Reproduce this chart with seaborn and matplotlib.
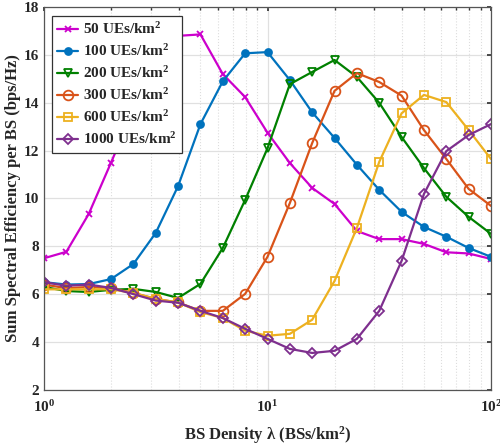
import numpy as np
import pandas as pd
import matplotlib
matplotlib.use("Agg")
import matplotlib.pyplot as plt
import seaborn as sns
from matplotlib.ticker import LogLocator, NullFormatter

density = [1.0, 1.259, 1.585, 1.995, 2.512, 3.162, 3.981, 5.012, 6.310, 7.943,
           10.0, 12.59, 15.85, 19.95, 25.12, 31.62, 39.81, 50.12, 63.10, 79.43, 100.0]

se_50 = [7.5, 7.77, 9.35, 11.5, 13.7, 15.5, 16.8, 16.86, 15.2, 14.24,
         12.75, 11.48, 10.44, 9.77, 8.64, 8.3, 8.3, 8.1, 7.75, 7.7, 7.47]
se_100 = [6.5, 6.4, 6.42, 6.63, 7.26, 8.56, 10.52, 13.11, 14.9, 16.07,
          16.12, 14.95, 13.6, 12.53, 11.41, 10.36, 9.44, 8.81, 8.4, 7.93, 7.56]
se_200 = [6.3, 6.13, 6.09, 6.18, 6.22, 6.09, 5.84, 6.43, 7.93, 9.94,
          12.1, 14.78, 15.29, 15.79, 15.08, 14.0, 12.57, 11.27, 10.07, 9.23, 8.52]
se_300 = [6.4, 6.25, 6.3, 6.25, 6.05, 5.8, 5.65, 5.3, 5.3, 6.01,
          7.56, 9.81, 12.32, 14.5, 15.24, 14.87, 14.3, 12.86, 11.65, 10.4, 9.69]
se_600 = [6.2, 6.2, 6.2, 6.2, 6.05, 5.8, 5.65, 5.25, 5.0, 4.47,
          4.26, 4.34, 4.93, 6.55, 8.77, 11.53, 13.56, 14.33, 14.03, 12.86, 11.65]
se_1000 = [6.5, 6.35, 6.4, 6.26, 6.0, 5.73, 5.64, 5.3, 5.0, 4.55,
           4.13, 3.71, 3.54, 3.63, 4.13, 5.3, 7.39, 10.19, 11.98, 12.65, 13.11]

labels = [r"50 UEs/km$^{2}$", r"100 UEs/km$^{2}$", r"200 UEs/km$^{2}$",
          r"300 UEs/km$^{2}$", r"600 UEs/km$^{2}$", r"1000 UEs/km$^{2}$"]
series = [se_50, se_100, se_200, se_300, se_600, se_1000]
colors = ["#CC00CC", "#0072BD", "#008000", "#D95319", "#EDB120", "#7E2F8E"]
markers = ["x", "o", "v", "o", "s", "D"]
filled = [True, True, False, False, False, False]
msizes = [5, 5, 6, 7, 6, 5.5]

sns.set_theme(style="white")
plt.rcParams["font.family"] = ["Liberation Serif", "DejaVu Serif"]
plt.rcParams["font.weight"] = "bold"
plt.rcParams["mathtext.fontset"] = "custom"
plt.rcParams["mathtext.rm"] = "Liberation Serif:bold"
plt.rcParams["mathtext.it"] = "Liberation Serif:bold"
plt.rcParams["mathtext.bf"] = "Liberation Serif:bold"

fig = plt.figure(figsize=(5.0, 4.47), dpi=100)
ax = fig.add_axes([0.088, 0.128, 0.894, 0.856])

for lab, vals, c, m, f, ms in zip(labels, series, colors, markers, filled, msizes):
    df = pd.DataFrame({"x": density, "y": vals})
    sns.lineplot(data=df, x="x", y="y", ax=ax, color=c, marker=m, markersize=ms,
                 markerfacecolor=(c if f else "none"), markeredgecolor=c,
                 markeredgewidth=1.3, linewidth=1.6, label=lab)

ax.set_xscale("log")
ax.set_xlim(1, 100)
ax.set_ylim(2, 18)
ax.set_yticks(range(2, 19, 2))
ax.xaxis.set_minor_locator(LogLocator(base=10, subs=np.arange(2, 10)))
ax.xaxis.set_minor_formatter(NullFormatter())
ax.grid(True, which="major", color="#E0E0E0", linewidth=0.9, linestyle="-")
ax.grid(True, which="minor", axis="x", color="#DDDDDD", linewidth=0.8, linestyle=":")
ax.set_axisbelow(True)
ax.tick_params(direction="in", which="both", top=True, right=True, labelsize=11,
               length=3, color="#333333")
ax.tick_params(axis="x", which="major", pad=7)
ax.tick_params(which="minor", length=2)
for sp in ax.spines.values():
    sp.set_color("#555555")
    sp.set_linewidth(0.9)
for t in ax.get_yticklabels():
    t.set_fontweight("bold")

ax.set_xlabel(r"BS Density $\lambda$ (BSs/km$^{2}$)", fontsize=12, fontweight="bold", labelpad=6)
ax.set_ylabel("Sum Spectral Efficiency per BS (bps/Hz)", fontsize=12, fontweight="bold", labelpad=2)

leg = ax.legend(loc="upper left", bbox_to_anchor=(0.01, 0.985), fancybox=False,
                edgecolor="#333333", framealpha=1, fontsize=11, handlelength=1.4,
                borderpad=0.35, labelspacing=0.4, handletextpad=0.3, borderaxespad=0.2)
leg.get_frame().set_linewidth(0.9)
for t in leg.get_texts():
    t.set_fontweight("bold")

fig.savefig("out.png", dpi=100)
